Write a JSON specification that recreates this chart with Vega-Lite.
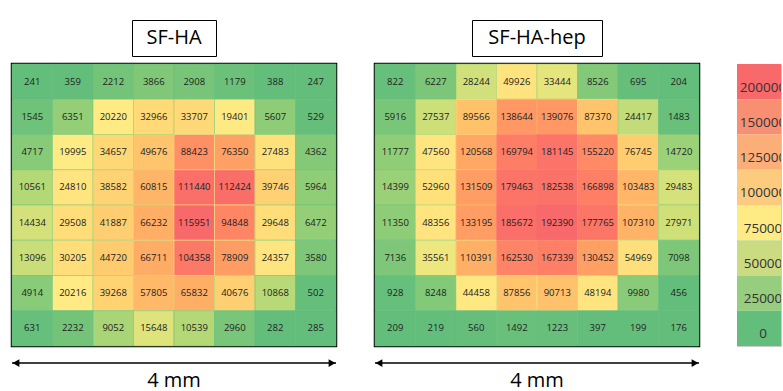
{
  "$schema": "https://vega.github.io/schema/vega-lite/v6.json",
  "padding": {"left": 10, "top": 19, "right": 0, "bottom": 0},
  "background": "white",
  "config": {"font": "Open Sans"},
  "datasets": {
    "left": [
      {"r":1,"c":1,"v":241},{"r":1,"c":2,"v":359},{"r":1,"c":3,"v":2212},{"r":1,"c":4,"v":3866},{"r":1,"c":5,"v":2908},{"r":1,"c":6,"v":1179},{"r":1,"c":7,"v":388},{"r":1,"c":8,"v":247},
      {"r":2,"c":1,"v":1545},{"r":2,"c":2,"v":6351},{"r":2,"c":3,"v":20220},{"r":2,"c":4,"v":32966},{"r":2,"c":5,"v":33707},{"r":2,"c":6,"v":19401},{"r":2,"c":7,"v":5607},{"r":2,"c":8,"v":529},
      {"r":3,"c":1,"v":4717},{"r":3,"c":2,"v":19995},{"r":3,"c":3,"v":34657},{"r":3,"c":4,"v":49676},{"r":3,"c":5,"v":88423},{"r":3,"c":6,"v":76350},{"r":3,"c":7,"v":27483},{"r":3,"c":8,"v":4362},
      {"r":4,"c":1,"v":10561},{"r":4,"c":2,"v":24810},{"r":4,"c":3,"v":38582},{"r":4,"c":4,"v":60815},{"r":4,"c":5,"v":111440},{"r":4,"c":6,"v":112424},{"r":4,"c":7,"v":39746},{"r":4,"c":8,"v":5964},
      {"r":5,"c":1,"v":14434},{"r":5,"c":2,"v":29508},{"r":5,"c":3,"v":41887},{"r":5,"c":4,"v":66232},{"r":5,"c":5,"v":115951},{"r":5,"c":6,"v":94848},{"r":5,"c":7,"v":29648},{"r":5,"c":8,"v":6472},
      {"r":6,"c":1,"v":13096},{"r":6,"c":2,"v":30205},{"r":6,"c":3,"v":44720},{"r":6,"c":4,"v":66711},{"r":6,"c":5,"v":104358},{"r":6,"c":6,"v":78909},{"r":6,"c":7,"v":24357},{"r":6,"c":8,"v":3580},
      {"r":7,"c":1,"v":4914},{"r":7,"c":2,"v":20216},{"r":7,"c":3,"v":39268},{"r":7,"c":4,"v":57805},{"r":7,"c":5,"v":65832},{"r":7,"c":6,"v":40676},{"r":7,"c":7,"v":10868},{"r":7,"c":8,"v":502},
      {"r":8,"c":1,"v":631},{"r":8,"c":2,"v":2232},{"r":8,"c":3,"v":9052},{"r":8,"c":4,"v":15648},{"r":8,"c":5,"v":10539},{"r":8,"c":6,"v":2960},{"r":8,"c":7,"v":282},{"r":8,"c":8,"v":285}
    ],
    "right": [
      {"r":1,"c":1,"v":822},{"r":1,"c":2,"v":6227},{"r":1,"c":3,"v":28244},{"r":1,"c":4,"v":49926},{"r":1,"c":5,"v":33444},{"r":1,"c":6,"v":8526},{"r":1,"c":7,"v":695},{"r":1,"c":8,"v":204},
      {"r":2,"c":1,"v":5916},{"r":2,"c":2,"v":27537},{"r":2,"c":3,"v":89566},{"r":2,"c":4,"v":138644},{"r":2,"c":5,"v":139076},{"r":2,"c":6,"v":87370},{"r":2,"c":7,"v":24417},{"r":2,"c":8,"v":1483},
      {"r":3,"c":1,"v":11777},{"r":3,"c":2,"v":47560},{"r":3,"c":3,"v":120568},{"r":3,"c":4,"v":169794},{"r":3,"c":5,"v":181145},{"r":3,"c":6,"v":155220},{"r":3,"c":7,"v":76745},{"r":3,"c":8,"v":14720},
      {"r":4,"c":1,"v":14399},{"r":4,"c":2,"v":52960},{"r":4,"c":3,"v":131509},{"r":4,"c":4,"v":179463},{"r":4,"c":5,"v":182538},{"r":4,"c":6,"v":166898},{"r":4,"c":7,"v":103483},{"r":4,"c":8,"v":29483},
      {"r":5,"c":1,"v":11350},{"r":5,"c":2,"v":48356},{"r":5,"c":3,"v":133195},{"r":5,"c":4,"v":185672},{"r":5,"c":5,"v":192390},{"r":5,"c":6,"v":177765},{"r":5,"c":7,"v":107310},{"r":5,"c":8,"v":27971},
      {"r":6,"c":1,"v":7136},{"r":6,"c":2,"v":35561},{"r":6,"c":3,"v":110391},{"r":6,"c":4,"v":162530},{"r":6,"c":5,"v":167339},{"r":6,"c":6,"v":130452},{"r":6,"c":7,"v":54969},{"r":6,"c":8,"v":7098},
      {"r":7,"c":1,"v":928},{"r":7,"c":2,"v":8248},{"r":7,"c":3,"v":44458},{"r":7,"c":4,"v":87856},{"r":7,"c":5,"v":90713},{"r":7,"c":6,"v":48194},{"r":7,"c":7,"v":9980},{"r":7,"c":8,"v":456},
      {"r":8,"c":1,"v":209},{"r":8,"c":2,"v":219},{"r":8,"c":3,"v":560},{"r":8,"c":4,"v":1492},{"r":8,"c":5,"v":1223},{"r":8,"c":6,"v":397},{"r":8,"c":7,"v":199},{"r":8,"c":8,"v":176}
    ],
    "legendBands": [
      {"k":1,"c":1,"label":"200000"},{"k":2,"c":1,"label":"150000"},{"k":3,"c":1,"label":"125000"},{"k":4,"c":1,"label":"100000"},
      {"k":5,"c":1,"label":"75000"},{"k":6,"c":1,"label":"50000"},{"k":7,"c":1,"label":"25000"},{"k":8,"c":1,"label":"0"}
    ],
    "scaleBar": [{"x":0,"x2":4,"lvl":3.05,"label":"4 mm","mid":2,"lvlText":1.2}]
  },
  "spacing": 35,
  "hconcat": [
    {
      "spacing": 8,
      "center": true,
      "bounds": "flush",
      "vconcat": [
        {
          "width": 84, "height": 36,
          "data": {"values": [{"t": "SF-HA"}]},
          "view": {"stroke": "black", "strokeWidth": 1},
          "mark": {"type": "text", "fontSize": 20, "color": "black", "baseline": "middle"},
          "encoding": {"text": {"field": "t"}}
        },
        {
          "width": 324, "height": 282,
          "data": {"name": "left"},
          "view": {"stroke": "black", "strokeWidth": 2.5},
          "encoding": {
            "x": {"field": "c", "type": "ordinal", "axis": null},
            "y": {"field": "r", "type": "ordinal", "axis": null}
          },
          "layer": [
            {"mark": {"type": "rect", "strokeWidth": 0.6}, "encoding": {
              "color": {"field": "v", "type": "quantitative", "scale": {"domain": [241, 19698, 115951], "range": ["#63BE7B", "#FFEB84", "#F8696B"]}, "legend": null},
              "stroke": {"field": "v", "type": "quantitative", "scale": {"domain": [241, 19698, 115951], "range": ["#63BE7B", "#FFEB84", "#F8696B"]}, "legend": null}}},
            {"mark": {"type": "text", "fontSize": 9.5, "color": "#222"}, "encoding": {"text": {"field": "v", "type": "quantitative", "format": "d"}}}
          ]
        },
        {
          "width": 324, "height": 38,
          "data": {"name": "scaleBar"},
          "view": {"stroke": null},
          "layer": [
            {"mark": {"type": "rule", "color": "black", "strokeWidth": 1.5},
             "encoding": {"x": {"field": "x", "type": "quantitative", "scale": {"domain": [0, 4]}, "axis": null}, "x2": {"field": "x2"}, "y": {"field": "lvl", "type": "quantitative", "scale": {"domain": [0, 4]}, "axis": null}}},
            {"mark": {"type": "point", "shape": "triangle-left", "filled": true, "color": "black", "opacity": 1, "size": 60, "xOffset": 4},
             "encoding": {"x": {"field": "x", "type": "quantitative"}, "y": {"field": "lvl", "type": "quantitative"}}},
            {"mark": {"type": "point", "shape": "triangle-right", "filled": true, "color": "black", "opacity": 1, "size": 60, "xOffset": -4},
             "encoding": {"x": {"field": "x2", "type": "quantitative"}, "y": {"field": "lvl", "type": "quantitative"}}},
            {"mark": {"type": "text", "fontSize": 20, "color": "black", "baseline": "middle"},
             "encoding": {"x": {"field": "mid", "type": "quantitative"}, "y": {"field": "lvlText", "type": "quantitative"}, "text": {"field": "label"}}}
          ]
        }
      ]
    },
    {
      "spacing": 8,
      "center": true,
      "bounds": "flush",
      "vconcat": [
        {
          "width": 130, "height": 36,
          "data": {"values": [{"t": "SF-HA-hep"}]},
          "view": {"stroke": "black", "strokeWidth": 1},
          "mark": {"type": "text", "fontSize": 20, "color": "black", "baseline": "middle"},
          "encoding": {"text": {"field": "t"}}
        },
        {
          "width": 324, "height": 282,
          "data": {"name": "right"},
          "view": {"stroke": "black", "strokeWidth": 2.5},
          "encoding": {
            "x": {"field": "c", "type": "ordinal", "axis": null},
            "y": {"field": "r", "type": "ordinal", "axis": null}
          },
          "layer": [
            {"mark": {"type": "rect", "strokeWidth": 0.6}, "encoding": {
              "color": {"field": "v", "type": "quantitative", "scale": {"domain": [176, 40010, 192390], "range": ["#63BE7B", "#FFEB84", "#F8696B"]}, "legend": null},
              "stroke": {"field": "v", "type": "quantitative", "scale": {"domain": [176, 40010, 192390], "range": ["#63BE7B", "#FFEB84", "#F8696B"]}, "legend": null}}},
            {"mark": {"type": "text", "fontSize": 9.5, "color": "#222"}, "encoding": {"text": {"field": "v", "type": "quantitative", "format": "d"}}}
          ]
        },
        {
          "width": 324, "height": 38,
          "data": {"name": "scaleBar"},
          "view": {"stroke": null},
          "layer": [
            {"mark": {"type": "rule", "color": "black", "strokeWidth": 1.5},
             "encoding": {"x": {"field": "x", "type": "quantitative", "scale": {"domain": [0, 4]}, "axis": null}, "x2": {"field": "x2"}, "y": {"field": "lvl", "type": "quantitative", "scale": {"domain": [0, 4]}, "axis": null}}},
            {"mark": {"type": "point", "shape": "triangle-left", "filled": true, "color": "black", "opacity": 1, "size": 60, "xOffset": 4},
             "encoding": {"x": {"field": "x", "type": "quantitative"}, "y": {"field": "lvl", "type": "quantitative"}}},
            {"mark": {"type": "point", "shape": "triangle-right", "filled": true, "color": "black", "opacity": 1, "size": 60, "xOffset": -4},
             "encoding": {"x": {"field": "x2", "type": "quantitative"}, "y": {"field": "lvl", "type": "quantitative"}}},
            {"mark": {"type": "text", "fontSize": 20, "color": "black", "baseline": "middle"},
             "encoding": {"x": {"field": "mid", "type": "quantitative"}, "y": {"field": "lvlText", "type": "quantitative"}, "text": {"field": "label"}}}
          ]
        }
      ]
    },
    {
      "spacing": 8,
      "bounds": "flush",
      "vconcat": [
        {
          "width": 44, "height": 36,
          "data": {"values": []},
          "view": {"stroke": null},
          "mark": "text",
          "encoding": {}
        },
        {
          "width": 44, "height": 282,
          "data": {"name": "legendBands"},
          "view": {"stroke": "#cccccc", "strokeWidth": 1},
          "encoding": {
            "x": {"field": "c", "type": "ordinal", "axis": null},
            "y": {"field": "k", "type": "ordinal", "axis": null}
          },
          "layer": [
            {"mark": "rect", "encoding": {"color": {"field": "label", "type": "nominal", "scale": {"domain": ["200000","150000","125000","100000","75000","50000","25000","0"], "range": ["#F8696B","#F98F72","#FBAE78","#FDCB7E","#FFEB84","#CADB81","#96CD7E","#63BE7B"]}, "legend": null}}},
            {"mark": {"type": "text", "fontSize": 13.5, "dx": 4, "dy": 6, "clip": true, "color": "#333"}, "encoding": {"text": {"field": "label"}}}
          ]
        }
      ]
    }
  ]
}
